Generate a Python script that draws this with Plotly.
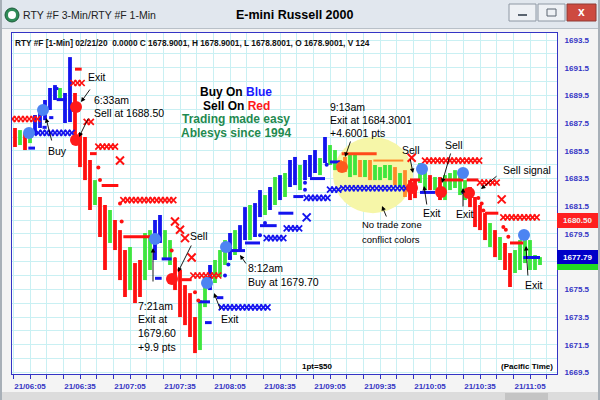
import plotly.graph_objects as go

# ---------------- data ----------------
BAR_START = 356      # minutes after midnight of first 3-min bar (05:56)
BAR_STEP = 3
bar_high = [1687.15, 1687.00, 1686.79, 1687.15, 1688.09, 1688.66, 1689.17, 1690.04, 1690.25, 1690.04,
            1689.68, 1692.27, 1689.68, 1686.79, 1686.50, 1684.84, 1683.39, 1682.17, 1681.59, 1681.23,
            1680.51, 1679.78, 1678.34, 1678.56, 1677.40, 1677.62, 1679.57, 1679.78, 1680.51, 1680.87,
            1679.78, 1679.06, 1677.62, 1676.90, 1675.81, 1675.23, 1673.50, 1674.73, 1676.39, 1677.26,
            1677.62, 1678.34, 1679.06, 1679.57, 1679.78, 1680.14, 1681.44, 1681.59, 1681.73, 1682.67,
            1682.31, 1682.89, 1683.61, 1683.75, 1683.90, 1684.84, 1685.06, 1684.48, 1684.84, 1685.20,
            1685.56, 1684.98, 1686.50, 1685.92, 1685.56, 1684.84, 1685.06, 1685.20, 1685.34, 1684.84,
            1684.84, 1684.84, 1684.48, 1684.33, 1684.48, 1684.48, 1684.33, 1683.90, 1684.11, 1683.39,
            1683.39, 1684.62, 1684.11, 1683.75, 1683.61, 1683.61, 1683.75, 1683.90, 1684.11, 1683.75,
            1683.39, 1682.89, 1682.17, 1681.59, 1681.01, 1680.29, 1679.78, 1679.28, 1678.85, 1678.12,
            1678.34, 1679.06, 1679.78, 1679.06, 1677.98, 1677.83]
bar_low = [1685.78, 1685.92, 1685.56, 1686.06, 1686.64, 1687.15, 1687.72, 1688.45, 1689.17, 1689.17,
           1687.51, 1687.58, 1686.06, 1684.33, 1683.39, 1681.23, 1681.59, 1679.28, 1676.90, 1678.85,
           1678.34, 1676.17, 1674.95, 1675.45, 1674.51, 1674.95, 1676.17, 1676.90, 1677.62, 1678.85,
           1677.62, 1677.26, 1675.45, 1673.50, 1672.92, 1672.06, 1670.90, 1671.12, 1674.22, 1675.45,
           1675.96, 1676.39, 1677.26, 1677.62, 1677.98, 1678.34, 1679.06, 1679.06, 1679.28, 1680.72,
           1680.87, 1681.23, 1681.59, 1681.95, 1682.17, 1682.89, 1683.03, 1682.67, 1683.39, 1683.61,
           1683.90, 1683.75, 1684.62, 1684.48, 1684.11, 1683.97, 1683.97, 1683.61, 1683.75, 1683.61,
           1683.61, 1683.39, 1683.39, 1683.39, 1683.54, 1683.39, 1683.03, 1682.89, 1682.17, 1681.95,
           1682.09, 1683.18, 1682.67, 1682.67, 1682.67, 1681.95, 1681.95, 1682.67, 1682.82, 1682.31,
           1681.95, 1681.44, 1680.00, 1679.78, 1679.06, 1678.56, 1677.83, 1677.62, 1676.90, 1675.67,
           1676.68, 1676.90, 1677.40, 1676.90, 1676.90, 1677.26]
bar_state = ["R", "G", "R", "G", "B", "B", "B", "B", "B", "G",
             "B", "B", "R", "R", "R", "R", "G", "R", "R", "G",
             "R", "R", "R", "G", "R", "R", "G", "G", "B", "B",
             "G", "G", "R", "R", "R", "R", "R", "G", "G", "B",
             "G", "G", "G", "B", "G", "B", "B", "G", "B", "B",
             "G", "B", "G", "B", "G", "B", "B", "G", "B", "B",
             "B", "G", "B", "G", "G", "O", "O", "G", "G", "O",
             "G", "O", "G", "G", "G", "G", "O", "G", "O", "R",
             "R", "G", "G", "R", "G", "R", "G", "G", "G", "G",
             "G", "R", "R", "R", "R", "G", "R", "G", "R", "R",
             "G", "G", "G", "G", "G", "G"]

# signal dots (minute of day, price)
buy_dot_t = [364.4, 372.8, 440.0, 471.2, 482.6, 600.2, 624.8, 661.4]
buy_dot_p = [1686.79, 1688.45, 1679.13, 1675.96, 1678.56, 1684.19, 1683.90, 1679.42]
sell_dot_t = [392.6, 392.6, 450.2, 594.2, 611.6, 628.4]
sell_dot_p = [1688.66, 1686.28, 1676.25, 1682.82, 1682.53, 1682.46]
exit_dot_t = [552.2]
exit_dot_p = [1684.33]

# stop levels: (start minute, end minute, price)
red_x_rows = [(354.5, 369.5, 1687.8), (391, 398, 1690.4), (399, 402, 1687.6), (406, 418, 1685.8),
              (421, 451, 1681.95), (463, 480, 1676.5), (602, 635, 1684.8), (635, 645, 1683.2),
              (649, 671, 1680.7)]
red_x_single_t = [419, 452, 455, 458, 462, 594, 648]
red_x_single_p = [1684.8, 1680.4, 1679.8, 1679.2, 1677.8, 1685.0, 1682.0]
red_dash_rows = [(392, 396, 1691.4), (401, 405, 1685.3), (408, 418, 1683.0), (421, 437, 1679.3),
                 (456, 462, 1676.2), (593, 599, 1683.4), (613, 625, 1683.4), (627, 634, 1683.4),
                 (638, 646, 1681.0), (653, 661, 1678.85)]
red_pt_t = [406, 407, 419, 420, 450, 452, 454.5, 464, 466, 634, 636, 637, 649, 650.5, 652]
red_pt_p = [1684.3, 1683.4, 1681.7, 1680.4, 1678.3, 1677.7, 1676.9, 1675.3, 1674.7,
            1682.1, 1681.7, 1681.2, 1680.0, 1679.8, 1679.3]

blue_x_rows = [(370, 392, 1686.8), (480, 509, 1674.2), (507, 517, 1679.2), (519, 527, 1679.9),
               (531, 545, 1682.1), (545, 551, 1682.7), (553, 591, 1682.8)]
blue_x_single_t = [531]
blue_x_single_p = [1680.7]
blue_dash_rows = [(364, 368, 1685.7), (372.5, 375, 1687.2), (376.5, 379, 1687.9), (379, 382, 1690.0),
                  (381, 387, 1689.2), (440, 444, 1676.3), (444, 450, 1677.7), (466, 473, 1674.6),
                  (470, 474, 1673.1), (477, 481, 1674.9), (486, 494, 1678.3), (494, 503, 1678.85),
                  (503, 513, 1680.1), (514, 523, 1681.0), (523, 529, 1682.2), (533, 542, 1683.5),
                  (545, 551, 1684.7), (599, 608, 1682.5), (624, 627, 1682.5), (661, 671, 1677.8)]
blue_pt_t = [482, 484, 485, 503, 506, 530, 530, 543]
blue_pt_p = [1676.5, 1677.3, 1677.8, 1679.4, 1680.3, 1682.7, 1683.2, 1684.5]

zone_rows = [(552, 573, 1685.3, "#ff4a1a", 3), (571, 589, 1684.8, "#ff8c2a", 2)]

x_tick_vals = [365, 395, 425, 455, 485, 515, 545, 575, 605, 635, 665]
x_tick_text = ["21/06:05", "21/06:35", "21/07:05", "21/07:35", "21/08:05", "21/08:35",
               "21/09:05", "21/09:35", "21/10:05", "21/10:35", "21/11:05"]
y_tick_vals = [1693.5, 1691.5, 1689.5, 1687.5, 1685.5, 1683.5, 1681.5, 1679.5,
               1675.5, 1673.5, 1671.5, 1669.5]

# ---------------- geometry helpers ----------------
L, R, T, B = 12, 557, 33, 374
X_RANGE = [354.2, 681.2]
Y_RANGE = [1669.39, 1694.01]


def P(x, y):
    return (x - L) / (R - L), (B - y) / (B - T)


def row_points(rows, step):
    xs, ys = [], []
    for t0, t1, p in rows:
        t = t0
        while t <= t1 + 1e-9:
            xs.append(t)
            ys.append(p)
            t += step
    return xs, ys


def seg_points(rows):
    xs, ys = [], []
    for t0, t1, p in rows:
        xs += [t0, t1, None]
        ys += [p, p, None]
    return xs, ys


BLUE = "#1414ee"
RED = "#ff1010"
GREEN = "#3ee63e"
ORANGE = "#ff8a2a"
AXIS = "#3434c4"
GRID = "#c9f0f3"

fig = go.Figure()

# price bars
bar_time = [BAR_START + BAR_STEP * i for i in range(len(bar_high))]
for code, col in [("G", GREEN), ("O", ORANGE), ("R", RED), ("B", BLUE)]:
    xs, ys = [], []
    for t, h, l, s in zip(bar_time, bar_high, bar_low, bar_state):
        if s == code:
            xs += [t, t, None]
            ys += [l, h, None]
    fig.add_trace(go.Scatter(x=xs, y=ys, mode="lines", line=dict(color=col, width=3.8),
                             hoverinfo="skip"))

# no trade zone stop lines
for t0, t1, p, col, w in zone_rows:
    fig.add_trace(go.Scatter(x=[t0, t1], y=[p, p], mode="lines", line=dict(color=col, width=w)))

# stops
for rows, col in [(red_dash_rows, RED), (blue_dash_rows, BLUE)]:
    xs, ys = seg_points(rows)
    fig.add_trace(go.Scatter(x=xs, y=ys, mode="lines", line=dict(color=col, width=3)))
for rows, col in [(red_x_rows, RED), (blue_x_rows, BLUE)]:
    xs, ys = row_points(rows, 2.5)
    fig.add_trace(go.Scatter(x=xs, y=ys, mode="markers",
                             marker=dict(symbol="x-thin", size=6, line=dict(width=1.7, color=col))))
for xs, ys, col in [(red_x_single_t, red_x_single_p, RED), (blue_x_single_t, blue_x_single_p, BLUE)]:
    fig.add_trace(go.Scatter(x=xs, y=ys, mode="markers",
                             marker=dict(symbol="x-thin", size=8, line=dict(width=2, color=col))))
for xs, ys, col in [(red_pt_t, red_pt_p, RED), (blue_pt_t, blue_pt_p, BLUE)]:
    fig.add_trace(go.Scatter(x=xs, y=ys, mode="markers", marker=dict(size=4, color=col)))

# signal dots
fig.add_trace(go.Scatter(x=buy_dot_t, y=buy_dot_p, mode="markers",
                         marker=dict(size=12, color="#4d84f2")))
fig.add_trace(go.Scatter(x=sell_dot_t, y=sell_dot_p, mode="markers",
                         marker=dict(size=12, color="#ff1a1a")))
fig.add_trace(go.Scatter(x=exit_dot_t, y=exit_dot_p, mode="markers",
                         marker=dict(size=12, color="#ff5a1e")))

# ---------------- shapes ----------------
shapes = []


def rect(x0, y0, x1, y1, fill, line=None, layer="above", lw=1):
    a = P(x0, y0)
    b = P(x1, y1)
    shapes.append(dict(type="rect", xref="paper", yref="paper", x0=a[0], y0=a[1], x1=b[0], y1=b[1],
                       fillcolor=fill, line=dict(color=line or fill, width=lw if line else 0),
                       layer=layer))


# no trade zone circle (data coords)
shapes.append(dict(type="circle", xref="x", yref="y", x0=546.8, x1=594.8, y0=1681.0, y1=1686.5,
                   fillcolor="#f6f6a8", line=dict(width=0), layer="between"))

# window chrome
rect(0, 0, 600, 28, "#e1e7ee", layer="below")
rect(0, 28, 600, 29, "#b8c0c8", layer="below")
rect(0, 392, 600, 400, "#dcdcdc", layer="below")
rect(505, 393, 548, 400, "#c4c4c4", layer="below")
rect(0, 0, 2, 400, "#a8b0b8", layer="below")
rect(598, 0, 600, 400, "#a8b0b8", layer="below")
rect(509, 4, 536, 21, "#eef1f5", "#8e98a4", layer="below")
rect(538, 4, 565, 21, "#eef1f5", "#8e98a4", layer="below")
rect(567, 4, 596, 21, "#cd4a40", "#8e3a34", layer="below")
rect(518, 14, 527, 16, "#5a6470", layer="below")
rect(547, 9, 556, 16, "#eef1f5", "#5a6470", layer="below")
a, b = P(5, 8), P(19, 22)
shapes.append(dict(type="circle", xref="paper", yref="paper", x0=a[0], y0=a[1], x1=b[0], y1=b[1],
                   fillcolor="#2e8b57", line=dict(color="#1d5c3a", width=1), layer="below"))
a, b = P(8, 11), P(16, 19)
shapes.append(dict(type="circle", xref="paper", yref="paper", x0=a[0], y0=a[1], x1=b[0], y1=b[1],
                   fillcolor="white", line=dict(width=0), layer="below"))

# price tags
rect(557, 213, 598, 228, "#ff2020")
rect(557, 250, 598, 264, "#0000c8")
rect(557, 264, 598, 270, "#22dd22")

# ---------------- annotations ----------------
anns = []
FONT = "Arial, Liberation Sans, sans-serif"


def txt(x, y, s, size=10.5, color="black", bold=False, xanchor="left"):
    px_, py_ = P(x, y)
    anns.append(dict(x=px_, y=py_, xref="paper", yref="paper", text=s, showarrow=False,
                     xanchor=xanchor, yanchor="middle", borderpad=0,
                     font=dict(family=FONT, size=size, color=color,
                               weight="bold" if bold else "normal")))


def arrow(tx, ty, hx, hy):
    px_, py_ = P(hx, hy)
    anns.append(dict(x=px_, y=py_, xref="paper", yref="paper", ax=tx - hx, ay=ty - hy,
                     axref="pixel", ayref="pixel", text="", showarrow=True, arrowhead=2,
                     arrowsize=1, arrowwidth=0.9, arrowcolor="black", standoff=0))


# title bar
txt(22, 15, "RTY #F 3-Min/RTY #F 1-Min", size=10.5, color="#222")
txt(294, 15, "E-mini Russell 2000", size=12.5, bold=True, xanchor="center")
txt(581, 12, "x", size=12, color="white", bold=True, xanchor="center")
# info line
txt(14, 43, "RTY #F [1-Min] 02/21/20  0.0000 C 1678.9001, H 1678.9001, L 1678.8001, O 1678.9001, V 124",
    size=8.3, bold=True, color="#111")
# bottom texts
txt(301, 366, "1pt=$50", size=8, bold=True)
txt(554, 366, "(Pacific Time)", size=8, bold=True, xanchor="right")
# price tags
txt(577, 221, "1680.50", size=8, bold=True, color="#f0f0f0", xanchor="center")
txt(577, 257, "1677.79", size=8, bold=True, color="white", xanchor="center")

# central legend text
txt(236, 92, "Buy On <span style='color:#1a1aff'>Blue</span>", size=12, bold=True, xanchor="center")
txt(236, 106, "Sell On <span style='color:#ff1a1a'>Red</span>", size=12, bold=True, xanchor="center")
txt(236, 119, "Trading made easy", size=12, bold=True, color="#1f8a50", xanchor="center")
txt(236, 133, "Ablesys since 1994", size=12, bold=True, color="#1f8a50", xanchor="center")

# labels
txt(87, 77, "Exit")
txt(93, 100, "6:33am")
txt(93, 113, "Sell at 1688.50")
txt(47, 151, "Buy")
txt(189, 236, "Sell")
txt(137, 306, "7:21am")
txt(137, 319, "Exit at")
txt(137, 333, "1679.60")
txt(137, 347, "+9.9 pts")
txt(220, 319, "Exit")
txt(247, 268, "8:12am")
txt(247, 282, "Buy at 1679.70")
txt(329, 107, "9:13am")
txt(329, 120, "Exit at 1684.3001")
txt(329, 133, "+4.6001 pts")
txt(401, 150, "Sell")
txt(444, 145, "Sell")
txt(502, 170, "Sell signal")
txt(422, 213, "Exit")
txt(455, 214, "Exit")
txt(524, 285, "Exit")
txt(361, 225, "No trade zone", size=9.5)
txt(361, 239, "conflict colors", size=9.5)

# arrows
arrow(91, 88, 81, 102)
arrow(89, 117, 79, 137)
arrow(52, 142, 46, 118)
arrow(351, 140, 345, 157)
arrow(410, 158, 413, 173)
arrow(451, 152, 442, 183)
arrow(498, 175, 481, 189)
arrow(427, 206, 424, 186)
arrow(463, 208, 463, 188)
arrow(528, 277, 526, 246)
arrow(387, 218, 382, 206)
arrow(192, 244, 178, 272)
arrow(153, 283, 153, 248)
arrow(221, 311, 214, 293)
arrow(247, 265, 240, 255)

fig.update_layout(
    width=600, height=400,
    margin=dict(l=L, r=600 - R, t=T, b=400 - B, autoexpand=False),
    paper_bgcolor="#f4f4f4", plot_bgcolor="white",
    showlegend=False,
    font=dict(family=FONT, size=10, color="black"),
    shapes=shapes, annotations=anns,
    xaxis=dict(range=X_RANGE, tickmode="array", tickvals=x_tick_vals, ticktext=x_tick_text,
               showgrid=True, gridcolor=GRID, gridwidth=1, zeroline=False,
               ticks="outside", ticklen=4, tickcolor=AXIS,
               tickfont=dict(family=FONT, size=8, color=AXIS, weight="bold"),
               showline=True, linecolor=AXIS, linewidth=1, mirror=True,
               minor=dict(dtick=10, tick0=355, showgrid=True, gridcolor=GRID,
                          ticks="outside", ticklen=4, tickcolor=AXIS)),
    yaxis=dict(range=Y_RANGE, side="right", tickmode="array", tickvals=y_tick_vals,
               ticktext=[f"{v:.1f}" for v in y_tick_vals],
               showgrid=True, gridcolor=GRID, zeroline=False,
               ticks="outside", ticklen=5, tickcolor="rgba(0,0,0,0)",
               tickfont=dict(family=FONT, size=8, color=AXIS, weight="bold"),
               showline=True, linecolor=AXIS, linewidth=1, mirror=True,
               minor=dict(dtick=1, tick0=1669.5, showgrid=True, gridcolor=GRID)),
)

fig.write_html("out.html", config={"displayModeBar": False},
               post_script="document.body.style.margin='0';")
